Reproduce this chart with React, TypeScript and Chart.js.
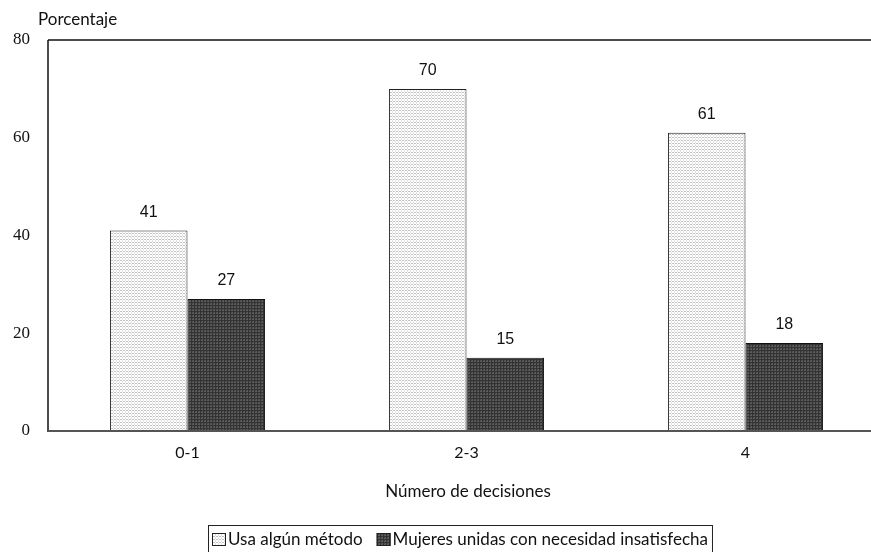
import React, { useEffect, useRef } from "react";
import { Chart, registerables } from "chart.js";
Chart.register(...registerables);

const categories = ["0-1", "2-3", "4"];
const usaMetodo = [41, 70, 61];
const necesidadInsatisfecha = [27, 15, 18];
const seriesLabels = ["Usa algún método", "Mujeres unidas con necesidad insatisfecha"];
const yAxisTitle = "Porcentaje";
const xAxisTitle = "Número de decisiones";
const yMin = 0;
const yMax = 80;
const yStep = 20;

const W = 885;
const H = 552;
const AREA_LEFT = 48;
const AREA_TOP = 40;
const AREA_BOTTOM = 431;
const SANS = "Lato, 'Open Sans', sans-serif";
const SERIF = "'Liberation Serif', 'DejaVu Serif', serif";

function makePattern(kind: "light" | "dark"): CanvasPattern | string {
  const c = document.createElement("canvas");
  c.width = 3;
  c.height = 3;
  const g = c.getContext("2d");
  if (!g) return kind === "light" ? "#eee" : "#444";
  if (kind === "light") {
    g.fillStyle = "#ffffff";
    g.fillRect(0, 0, 3, 3);
    g.fillStyle = "#c4c4c4";
    g.fillRect(0, 2, 2, 1);
    g.fillStyle = "#e2e2e2";
    g.fillRect(2, 0, 1, 2);
  } else {
    g.fillStyle = "#333333";
    g.fillRect(0, 0, 3, 3);
    g.fillStyle = "#5c5c5c";
    g.fillRect(0, 0, 2, 2);
    g.fillStyle = "#484848";
    g.fillRect(0, 0, 1, 1);
  }
  const p = g.createPattern(c, "repeat");
  return p || (kind === "light" ? "#eee" : "#444");
}

export default function App() {
  const ref = useRef<HTMLCanvasElement | null>(null);
  useEffect(() => {
    const canvas = ref.current;
    if (!canvas) return;
    const light = makePattern("light");
    const dark = makePattern("dark");

    const decor = {
      id: "decor",
      afterDatasetsDraw(chart: any) {
        const ctx = chart.ctx as CanvasRenderingContext2D;
        const a = chart.chartArea;
        ctx.save();
        // data labels
        ctx.fillStyle = "#111";
        ctx.font = `16px 'Liberation Sans', Arial, sans-serif`;
        ctx.textAlign = "center";
        ctx.textBaseline = "middle";
        chart.data.datasets.forEach((ds: any, di: number) => {
          const meta = chart.getDatasetMeta(di);
          meta.data.forEach((el: any, i: number) => {
            ctx.fillText(String(ds.data[i]), el.x, el.y - 18);
          });
        });
        // axes lines
        ctx.lineWidth = 1.5;
        ctx.strokeStyle = "#111";
        ctx.beginPath();
        ctx.moveTo(a.left, a.top);
        ctx.lineTo(chart.width, a.top);
        ctx.stroke();
        ctx.beginPath();
        ctx.moveTo(a.left, a.top);
        ctx.lineTo(a.left, a.bottom + 1);
        ctx.stroke();
        ctx.lineWidth = 2;
        ctx.strokeStyle = "#555";
        ctx.beginPath();
        ctx.moveTo(a.left, a.bottom);
        ctx.lineTo(chart.width, a.bottom);
        ctx.stroke();
        // titles
        ctx.fillStyle = "#111";
        ctx.font = `17px ${SANS}`;
        ctx.textAlign = "left";
        ctx.fillText(yAxisTitle, 38, 20);
        ctx.textAlign = "center";
        ctx.fillText(xAxisTitle, 468, 492);
        // legend
        ctx.textAlign = "left";
        const sq = 14;
        const gap = 2;
        const between = 14;
        const w0 = ctx.measureText(seriesLabels[0]).width;
        const w1 = ctx.measureText(seriesLabels[1]).width;
        const total = sq + gap + w0 + between + sq + gap + w1;
        const startX = Math.round(460 - total / 2);
        ctx.lineWidth = 1;
        ctx.strokeStyle = "#222";
        ctx.strokeRect(startX - 3.5, 525.5, total + 8, 40);
        const fills = [light, dark];
        let x = startX;
        seriesLabels.forEach((label, i) => {
          ctx.fillStyle = fills[i] as any;
          ctx.fillRect(x, 533, sq, 13);
          ctx.strokeStyle = "#222";
          ctx.strokeRect(x + 0.5, 533.5, sq - 1, 12);
          ctx.fillStyle = "#111";
          ctx.fillText(label, x + sq + gap, 540);
          x += sq + gap + ctx.measureText(label).width + between;
        });
        ctx.restore();
      },
    };

    const chart = new Chart(canvas, {
      type: "bar",
      data: {
        labels: categories,
        datasets: [
          {
            label: seriesLabels[0],
            data: usaMetodo,
            backgroundColor: light as any,
            borderColor: "#222",
            borderWidth: 1,
            categoryPercentage: 0.556,
            barPercentage: 1,
          },
          {
            label: seriesLabels[1],
            data: necesidadInsatisfecha,
            backgroundColor: dark as any,
            borderColor: "#111",
            borderWidth: 1,
            categoryPercentage: 0.556,
            barPercentage: 1,
          },
        ],
      },
      options: {
        responsive: false,
        animation: false,
        layout: { padding: { top: AREA_TOP, left: 0, right: 0, bottom: 0 } },
        plugins: { legend: { display: false }, tooltip: { enabled: false } },
        scales: {
          x: {
            grid: { display: false, drawTicks: false },
            border: { display: false },
            ticks: { color: "#111", font: { family: SANS, size: 16 }, padding: 12 },
            afterFit: (s: any) => {
              s.height = H - AREA_BOTTOM;
            },
          },
          y: {
            min: yMin,
            max: yMax,
            grid: { display: false, drawTicks: false },
            border: { display: false },
            ticks: { stepSize: yStep, color: "#111", font: { family: SERIF, size: 17 }, padding: 18 },
            afterFit: (s: any) => {
              s.width = AREA_LEFT;
            },
          },
        },
      },
      plugins: [decor],
    });
    return () => chart.destroy();
  }, []);

  return (
    <div style={{ position: "absolute", left: 0, top: 0, width: 871, height: 552, overflow: "hidden", background: "#fff" }}>
      <canvas ref={ref} width={W} height={H} style={{ display: "block", width: W, height: H }} />
    </div>
  );
}
